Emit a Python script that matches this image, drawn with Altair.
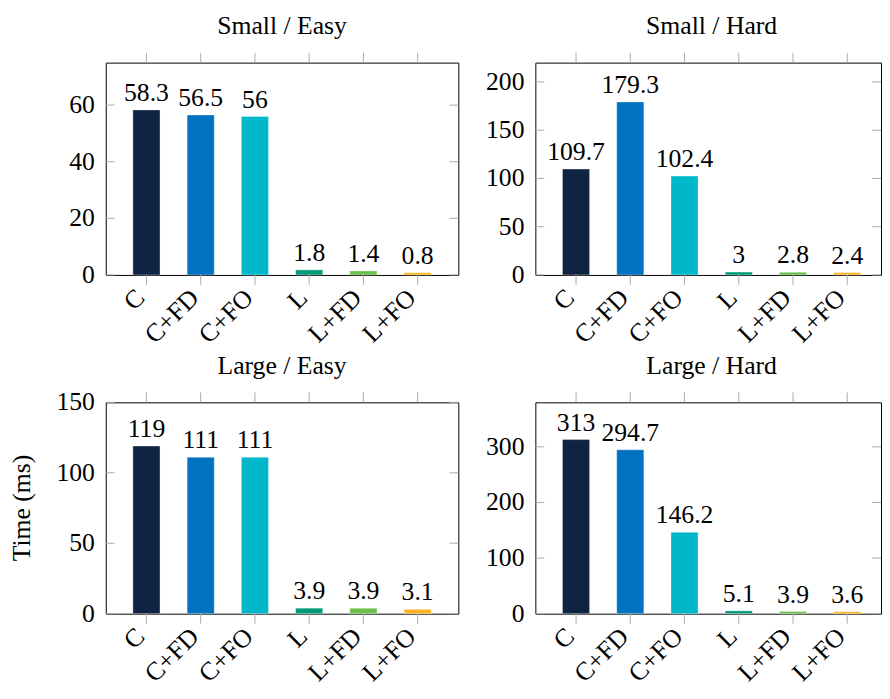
import altair as alt
import pandas as pd

categories = ["C", "C+FD", "C+FO", "L", "L+FD", "L+FO"]
colors = ["#0f2442", "#0072c1", "#00b8c9", "#009a78", "#6cbf4b", "#fbb324"]
panel_titles = ["Small / Easy", "Small / Hard", "Large / Easy", "Large / Hard"]
small_easy = [58.3, 56.5, 56, 1.8, 1.4, 0.8]
small_hard = [109.7, 179.3, 102.4, 3, 2.8, 2.4]
large_easy = [119, 111, 111, 3.9, 3.9, 3.1]
large_hard = [313, 294.7, 146.2, 5.1, 3.9, 3.6]
y_max = [75, 220, 150, 380]
y_ticks = [[0, 20, 40, 60], [0, 50, 100, 150, 200], [0, 50, 100, 150], [0, 100, 200, 300]]
y_title = "Time (ms)"

FONT = "Liberation Serif"
FS = 26
TICK_GRAY = "#ababab"
BAND_RANGE = 357
TICK = 9


def panel(i, values, show_title, w, h):
    df = pd.DataFrame({"cat": categories, "val": values})
    tdf = pd.DataFrame({"t": y_ticks[i]})
    xscale = alt.Scale(domain=categories, paddingInner=0.5, paddingOuter=0.5,
                       range=[0, BAND_RANGE])
    yscale = alt.Scale(domain=[0, y_max[i]], nice=False, zero=True)
    xenc = alt.X("cat:N", scale=xscale, sort=categories, axis=None)
    yval = alt.Y("val:Q", scale=yscale, axis=None)
    ytick = alt.Y("t:Q", scale=yscale, axis=None)

    bars = alt.Chart(df).mark_bar(stroke="white", strokeOpacity=0.35, strokeWidth=1).encode(
        x=xenc, y=yval,
        color=alt.Color("cat:N", scale=alt.Scale(domain=categories, range=colors), legend=None),
    )
    values_txt = alt.Chart(df).mark_text(font=FONT, fontSize=FS, baseline="alphabetic",
                                          dy=-9, color="black").encode(
        x=xenc, y=yval, text=alt.Text("val:Q", format="~g"),
    )
    left_ticks = alt.Chart(tdf).mark_rule(color=TICK_GRAY, strokeWidth=1).encode(
        y=ytick, x=alt.value(0), x2=alt.value(TICK),
    )
    right_ticks = alt.Chart(tdf).mark_rule(color=TICK_GRAY, strokeWidth=1).encode(
        y=ytick, x=alt.value(w - TICK), x2=alt.value(w),
    )
    top_ticks = alt.Chart(df).mark_rule(color=TICK_GRAY, strokeWidth=1).encode(
        x=xenc, y=alt.value(-10), y2=alt.value(0),
    )
    bottom_ticks = alt.Chart(df).mark_rule(color=TICK_GRAY, strokeWidth=1).encode(
        x=xenc, y=alt.value(h), y2=alt.value(h + 10),
    )
    y_labels = alt.Chart(tdf).mark_text(font=FONT, fontSize=FS, align="right",
                                         baseline="middle", color="black").encode(
        y=ytick, x=alt.value(-11), text=alt.Text("t:Q", format="~g"),
    )
    x_labels = alt.Chart(df).mark_text(font=FONT, fontSize=FS, align="right",
                                        baseline="middle", angle=315, dx=-4.2, dy=-4.2,
                                        color="black").encode(
        x=xenc, y=alt.value(h + 19), text="cat:N",
    )
    title_txt = alt.Chart(pd.DataFrame({"title": [panel_titles[i]]})).mark_text(
        font=FONT, fontSize=FS, align="center", baseline="alphabetic", color="black",
    ).encode(x=alt.value(BAND_RANGE / 2), y=alt.value(-29), text="title:N")

    layers = [bars, values_txt, left_ticks, right_ticks, top_ticks, bottom_ticks,
              y_labels, x_labels, title_txt]
    if show_title:
        layers.append(
            alt.Chart(pd.DataFrame({"yt": [y_title]})).mark_text(
                font=FONT, fontSize=FS, align="center", baseline="middle", angle=270,
                color="black",
            ).encode(x=alt.value(-85), y=alt.value(h / 2), text="yt:N")
        )
    return alt.layer(*layers).properties(width=w, height=h)


chart = alt.concat(
    panel(0, small_easy, False, 357, 215),
    panel(1, small_hard, False, 350, 215),
    panel(2, large_easy, True, 357, 214),
    panel(3, large_hard, False, 350, 214),
    columns=2,
    spacing={"row": 3, "column": 26},
    align="each",
).properties(padding=0).configure_view(stroke="black", strokeWidth=1)

chart.save("out.html", embed_options={"renderer": "svg", "actions": False})
